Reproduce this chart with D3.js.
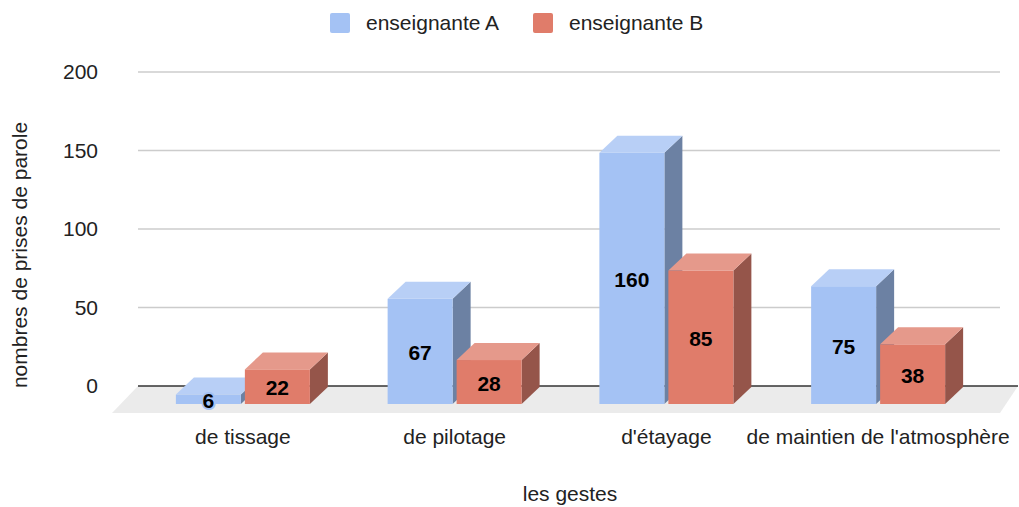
<!DOCTYPE html>
<html>
<head>
<meta charset="utf-8">
<script src="https://cdn.jsdelivr.net/npm/d3@7"></script>
<style>
  body { margin: 0; background: #fff; }
  text { font-family: "Liberation Sans", Arial, sans-serif; }
</style>
</head>
<body>
<script>
var categories = ['de tissage', 'de pilotage', "d'étayage", "de maintien de l'atmosphère"];
var seriesNames = ['enseignante A', 'enseignante B'];
var valuesA = [6, 67, 160, 75];
var valuesB = [22, 28, 85, 38];
var yTicks = [0, 50, 100, 150, 200];

(function() {
    var W = 1019, H = 507;
    var depthX = 18, depthY = 17;
    var colors = [
        { front: '#a4c2f4', top: '#b8cff6', side: '#6c81a3' },
        { front: '#e07c6a', top: '#e5998b', side: '#95554a' }
    ];

    var svg = d3.select('body').append('svg')
        .attr('width', W)
        .attr('height', H);

    var y = d3.scaleLinear().domain([0, 200]).range([386, 72]);
    var x = d3.scaleBand().domain(categories).range([137, 984]);
    var xs = d3.scaleBand().domain(seriesNames).range([-67, 67]).paddingInner(4 / 69);

    // floor
    svg.append('polygon')
        .attr('points', [[138, 386], [1018, 386], [1000, 413], [112, 413]].join(' '))
        .attr('fill', '#ebebeb');

    // gridlines
    svg.selectAll('line.grid')
        .data(yTicks.filter(function(d) { return d > 0; }))
        .enter()
            .append('line')
            .attr('class', 'grid')
            .attr('x1', 138)
            .attr('x2', 1000)
            .attr('y1', function(d) { return y(d); })
            .attr('y2', function(d) { return y(d); })
            .attr('stroke', '#cccccc')
            .attr('stroke-width', 1.5);

    svg.append('line')
        .attr('x1', 138).attr('x2', 1018)
        .attr('y1', y(0)).attr('y2', y(0))
        .attr('stroke', '#333')
        .attr('stroke-width', 1.5);

    // y axis labels
    var yAxis = svg.append('g')
        .attr('transform', 'translate(138,0)')
        .call(d3.axisLeft(y).tickValues(yTicks).tickSize(0).tickPadding(40));
    yAxis.select('.domain').remove();
    yAxis.selectAll('text')
        .attr('font-size', 21)
        .attr('font-family', '"Liberation Sans", Arial, sans-serif')
        .attr('fill', '#222');

    // bars
    var rows = [];
    categories.forEach(function(c, i) {
        rows.push({ cat: c, s: 0, v: valuesA[i] });
        rows.push({ cat: c, s: 1, v: valuesB[i] });
    });

    var front = function(v) { return y(v) + depthY + 1; };

    var bars = svg.selectAll('g.bar')
        .data(rows)
        .enter()
            .append('g')
            .attr('class', 'bar')
            .attr('transform', function(d) {
                return 'translate(' + (x(d.cat) + x.bandwidth() / 2 + xs(seriesNames[d.s])) + ',0)';
            });

    var bw = xs.bandwidth();
    bars.append('polygon')
        .attr('points', function(d) {
            var t = front(d.v), b = front(0);
            return [[bw, t], [bw + depthX, t - depthY], [bw + depthX, b - depthY], [bw, b]].join(' ');
        })
        .attr('fill', function(d) { return colors[d.s].side; });
    bars.append('polygon')
        .attr('points', function(d) {
            var t = front(d.v);
            return [[0, t], [depthX, t - depthY], [bw + depthX, t - depthY], [bw, t]].join(' ');
        })
        .attr('fill', function(d) { return colors[d.s].top; });
    bars.append('rect')
        .attr('x', 0)
        .attr('width', bw)
        .attr('y', function(d) { return front(d.v); })
        .attr('height', function(d) { return front(0) - front(d.v); })
        .attr('fill', function(d) { return colors[d.s].front; });
    bars.append('text')
        .text(function(d) { return d.v; })
        .attr('x', bw / 2)
        .attr('y', function(d) { return (front(d.v) + front(0)) / 2 + 1; })
        .attr('dy', '0.36em')
        .attr('text-anchor', 'middle')
        .attr('font-size', 21)
        .attr('font-weight', 'bold')
        .attr('fill', '#000')
        .attr('stroke', function(d) { return colors[d.s].front; })
        .attr('stroke-width', 4)
        .attr('paint-order', 'stroke');

    // category labels
    svg.selectAll('text.cat')
        .data(categories)
        .enter()
            .append('text')
            .attr('class', 'cat')
            .text(function(d) { return d; })
            .attr('x', function(d) { return x(d) + x.bandwidth() / 2; })
            .attr('y', 444)
            .attr('text-anchor', 'middle')
            .attr('font-size', 21)
            .attr('fill', '#222');

    // axis titles
    svg.append('text')
        .text('les gestes')
        .attr('x', 570).attr('y', 501)
        .attr('text-anchor', 'middle')
        .attr('font-size', 21)
        .attr('fill', '#222');
    svg.append('text')
        .text('nombres de prises de parole')
        .attr('transform', 'translate(27,255) rotate(-90)')
        .attr('text-anchor', 'middle')
        .attr('font-size', 21)
        .attr('fill', '#222');

    // legend
    var legendX = [330, 533];
    var legend = svg.selectAll('g.legend')
        .data(seriesNames)
        .enter()
            .append('g')
            .attr('class', 'legend')
            .attr('transform', function(d, i) { return 'translate(' + legendX[i] + ',13)'; });
    legend.append('rect')
        .attr('width', 20).attr('height', 20)
        .attr('rx', 2)
        .attr('fill', function(d, i) { return colors[i].front; });
    legend.append('text')
        .text(function(d) { return d; })
        .attr('x', 36).attr('y', 17)
        .attr('font-size', 21)
        .attr('fill', '#222');
}());
</script>
</body>
</html>
